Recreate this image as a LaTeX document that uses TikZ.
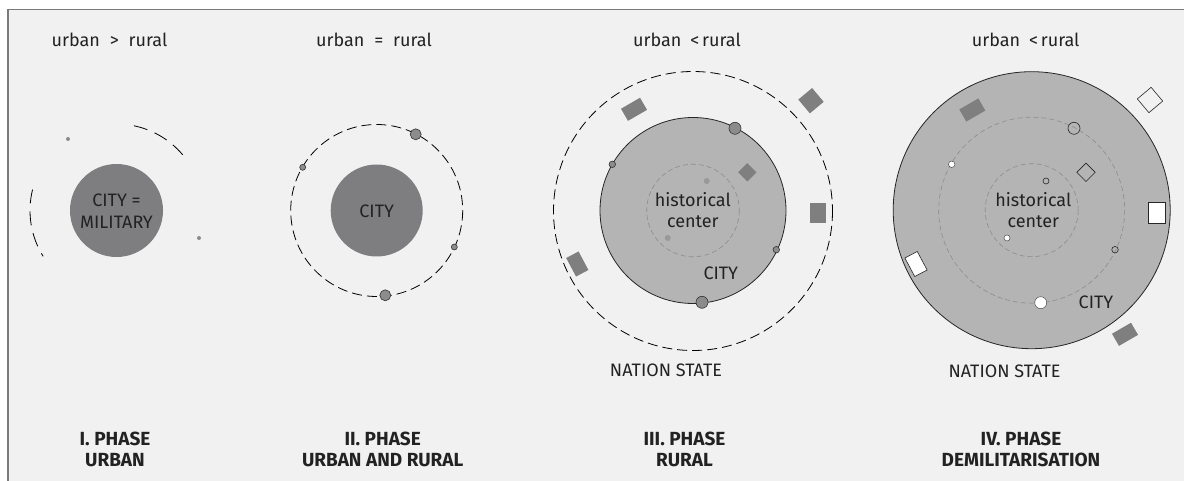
\documentclass[tikz,border=0pt]{standalone}
\usepackage{fontspec}
\setmainfont{Fira Sans}
\usetikzlibrary{positioning}
\definecolor{bg}{HTML}{F1F1F1}
\definecolor{framecol}{HTML}{7A7A7A}
\definecolor{darkcity}{HTML}{7E7E80}
\definecolor{lightcity}{HTML}{B4B4B4}
\definecolor{blockgray}{HTML}{7F7F7F}
\definecolor{txt}{HTML}{222222}

\begin{document}
\begin{tikzpicture}[x=1pt, y=-1pt,
  lbl/.style={font=\fontsize{18}{21.5}\selectfont, text=txt, align=center, inner sep=0pt},
  phase/.style={font=\bfseries\fontsize{19}{21}\selectfont, text=txt, align=center, inner sep=0pt},
  ring/.style={draw=black, line width=0.8pt, dash pattern=on 10pt off 5pt},
  farring/.style={draw=black, line width=0.8pt, dash pattern=on 14pt off 8pt},
  corering/.style={draw=black!45, line width=0.6pt, dash pattern=on 5pt off 3pt},
  citydisk/.style={fill=darkcity},
  bigcity/.style={fill=lightcity, draw=black!85, line width=0.8pt},
  hub/.style={circle, fill=blockgray!90, draw=black!80, line width=0.6pt, inner sep=0pt},
  openhub/.style={circle, draw=black!85, line width=0.6pt, inner sep=0pt},
  whitehub/.style={circle, fill=white, draw=black!70, line width=0.5pt, inner sep=0pt},
  speck/.style={circle, fill=black!45, inner sep=0pt, minimum size=4pt},
  block/.style={fill=blockgray, inner sep=0pt, minimum width=22pt, minimum height=14pt},
  openblock/.style={draw=black!85, line width=0.6pt, inner sep=0pt}
]
  \useasboundingbox (0,0) rectangle (1184,481);
  \fill[bg] (8,9) rectangle (1184,481);
  \draw[framecol, line width=1.5pt] (8,481) -- (8,9.5) -- (1184,9.5);

  % I. phase
  \coordinate (c1) at (116.5,210.5);
  \fill[citydisk] (c1) circle[radius=46.5];
  \draw[farring] (c1) ++(-40:86.5) arc[start angle=-40, end angle=-83, radius=86.5];
  \draw[farring] (c1) ++(-166:86.5) arc[start angle=-166, end angle=-212, radius=86.5];
  \node[speck] (s1a) at (68,139) {};
  \node[speck] (s1b) at (199,238) {};
  \node[lbl] (city1) at (116.5,211) {CITY =\\MILITARY};
  \node[lbl, anchor=base] (ratio1) at (109.5,47) {urban\hspace{0.55em}>\hspace{0.55em}rural};
  \node[phase] (ph1) at (115,449.5) {I. PHASE\\URBAN};

  % II. phase
  \coordinate (c2) at (376.7,210.5);
  \fill[citydisk] (c2) circle[radius=46];
  \draw[ring] (c2) circle[radius=86];
  \node[hub, minimum size=11pt] (h2a) at (415.7,134.3) {};
  \node[hub, minimum size=6pt] (h2b) at (302.7,167.3) {};
  \node[hub, minimum size=6pt] (h2c) at (454.3,247) {};
  \node[hub, minimum size=11pt] (h2d) at (385.3,295.3) {};
  \node[lbl] (city2) at (376.7,211.5) {CITY};
  \node[lbl, anchor=base] (ratio2) at (374,47) {urban\hspace{0.55em}=\hspace{0.55em}rural};
  \node[phase] (ph2) at (382.7,449.5) {II. PHASE\\URBAN AND RURAL};

  % III. phase
  \coordinate (c3) at (693,210.5);
  \draw[ring] (693,211) circle[radius=139.5];
  \filldraw[bigcity] (c3) circle[radius=93];
  \draw[corering] (c3) circle[radius=46.3];
  \node[speck, fill=black!40, minimum size=6pt] (s3a) at (706.7,181) {};
  \node[speck, fill=black!40, minimum size=6pt] (s3b) at (667.7,238) {};
  \node[hub, minimum size=12pt] (h3a) at (735,128.3) {};
  \node[hub, minimum size=6.5pt] (h3b) at (612.3,164.3) {};
  \node[hub, minimum size=6.5pt] (h3c) at (776.3,249.7) {};
  \node[hub, minimum size=12pt] (h3d) at (702,302.3) {};
  \node[block, rotate=30] (b3a) at (634,109.3) {};
  \node[block, minimum width=18pt, minimum height=18pt, rotate=40] (b3b) at (811,100.7) {};
  \node[block, minimum width=13pt, minimum height=13pt, rotate=45] (b3c) at (747.3,172.3) {};
  \node[block, minimum width=16pt, minimum height=20pt] (b3d) at (818,213.3) {};
  \node[block, minimum width=14pt, minimum height=21pt, rotate=28] (b3e) at (577.3,264) {};
  \node[lbl] (core3) at (692.8,210) {historical\\center};
  \node[lbl] (city3) at (720.8,273) {CITY};
  \node[lbl] (nation3) at (666,370.7) {NATION STATE};
  \node[lbl, anchor=base] (ratio3) at (687,47) {urban\hspace{0.5em}<\hspace{0.15em}rural};
  \node[phase] (ph3) at (684.5,449.5) {III. PHASE\\RURAL};

  % IV. phase
  \coordinate (c4) at (1031.7,210.2);
  \filldraw[bigcity] (c4) circle[radius=138.5];
  \draw[corering] (c4) circle[radius=93];
  \draw[corering] (c4) circle[radius=46.5];
  \node[openhub, minimum size=12pt] (h4a) at (1074,128.3) {};
  \node[whitehub, minimum size=6.5pt] (h4b) at (951.7,164.3) {};
  \node[openhub, minimum size=6.5pt] (h4c) at (1115,249.7) {};
  \node[whitehub, minimum size=12pt] (h4d) at (1040.7,302.7) {};
  \node[openhub, minimum size=6pt] (h4e) at (1046,181) {};
  \node[whitehub, minimum size=6pt] (h4f) at (1007,238) {};
  \node[block, rotate=30] (b4a) at (972.3,110) {};
  \node[openblock, fill=bg, minimum width=18pt, minimum height=18pt, rotate=40] (b4b) at (1150,100) {};
  \node[openblock, minimum width=13pt, minimum height=13pt, rotate=45] (b4c) at (1086,172.3) {};
  \node[openblock, fill=white, minimum width=16.5pt, minimum height=21pt] (b4d) at (1156.7,213.3) {};
  \node[openblock, fill=white, minimum width=14pt, minimum height=21pt, rotate=28] (b4e) at (916,264) {};
  \node[block, rotate=30] (b4f) at (1125,334.3) {};
  \node[lbl] (core4) at (1033.3,210) {historical\\center};
  \node[lbl] (city4) at (1096,302) {CITY};
  \node[lbl] (nation4) at (1004.5,371) {NATION STATE};
  \node[lbl, anchor=base] (ratio4) at (1025.7,47) {urban\hspace{0.5em}<\hspace{0.15em}rural};
  \node[phase] (ph4) at (1021,449.5) {IV. PHASE\\DEMILITARISATION};
\end{tikzpicture}
\end{document}
